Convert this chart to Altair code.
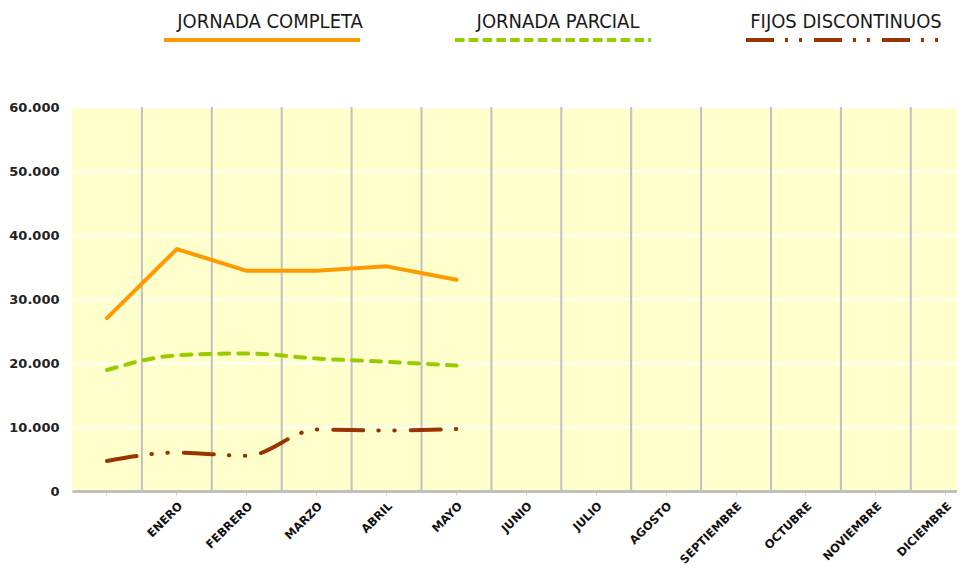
import altair as alt
import pandas as pd

# ---- data -------------------------------------------------------------
categories = ["", "ENERO", "FEBRERO", "MARZO", "ABRIL", "MAYO", "JUNIO", "JULIO",
              "AGOSTO", "SEPTIEMBRE", "OCTUBRE", "NOVIEMBRE", "DICIEMBRE"]
series_names = ["JORNADA COMPLETA", "JORNADA PARCIAL", "FIJOS DISCONTINUOS"]
series_colors = ["#FF9900", "#99CC00", "#993300"]
completa = [27000, 37800, 34400, 34400, 35100, 33000]
parcial = [18900, 21200, 21500, 20700, 20200, 19600]
fijos = [4700, 6000, 5500, 9600, 9450, 9700]
y_ticks = [0, 10000, 20000, 30000, 40000, 50000, 60000]

n = len(completa)
df = pd.DataFrame({
    "mes": categories[:n] * 3,
    "serie": [series_names[0]] * n + [series_names[1]] * n + [series_names[2]] * n,
    "valor": completa + parcial + fijos,
})
grid_df = pd.DataFrame({"mes": categories[1:]})

W, H = 885, 384
BAND = 69.9
xscale = alt.Scale(domain=categories, range=[0, BAND * len(categories)],
                   paddingInner=0, paddingOuter=0)
yscale = alt.Scale(domain=[0, 60000], nice=False)

label_font = "DejaVu Sans"

xaxis = alt.Axis(title=None, labelAngle=-45, labelAlign="right", labelBaseline="top",
                 labelFont=label_font, labelFontSize=11.5, labelFontWeight="bold",
                 labelColor="#111111", labelPadding=5, labelOverlap=False, labelBound=False,
                 tickColor="#d0d0d0", tickSize=4, tickWidth=1,
                 domainColor="#c0c0c0", domainWidth=3, grid=False)
yaxis = alt.Axis(title=None, values=y_ticks, ticks=False, domain=False,
                 labelExpr="replace(format(datum.value, ','), ',', '.')",
                 labelFont=label_font, labelFontSize=13, labelFontWeight="bold",
                 labelColor="#222222", labelPadding=13,
                 grid=True, gridColor="#ffffff", gridWidth=2)

X = alt.X("mes:N", scale=xscale, sort=categories, axis=xaxis)
Y = alt.Y("valor:Q", scale=yscale, axis=yaxis)

vgrid = alt.Chart(grid_df).mark_rule(color="#c0c0c0", strokeWidth=2).encode(
    x=alt.X("mes:N", scale=xscale, sort=categories, bandPosition=0, axis=xaxis),
)

dashes = [None, [10, 9], [30, 15, 0.5, 15.5, 0.5, 16]]
interps = ["linear", "monotone", "monotone"]
line_layers = []
for name, color, dash, interp in zip(series_names, series_colors, dashes, interps):
    kw = dict(color=color, strokeWidth=4, strokeCap="round", strokeJoin="round", interpolate=interp)
    if dash:
        kw["strokeDash"] = dash
    line_layers.append(
        alt.Chart(df).transform_filter(alt.datum.serie == name).mark_line(**kw).encode(x=X, y=Y)
    )

# ---- legend (text above sample line) ---------------------------------------
legend_dashes = [None, [9.5, 4.3], [28, 11, 3, 11, 3, 12]]
legend_layers = []
for i, (name, color, dash) in enumerate(zip(series_names, series_colors, legend_dashes)):
    x0 = 92 + i * 291
    ldf = pd.DataFrame({"label": [name]})
    legend_layers.append(
        alt.Chart(ldf).mark_text(font="DejaVu Sans Condensed, Liberation Sans", fontSize=20,
                                 color="#1a1a1a", align="center", baseline="alphabetic").encode(
            text="label:N", x=alt.value(x0 + 106 - i * 3), y=alt.value(-79))
    )
    rkw = dict(color=color, strokeWidth=4, strokeCap="butt")
    if dash:
        rkw["strokeDash"] = dash
    legend_layers.append(
        alt.Chart(ldf).mark_rule(**rkw).encode(
            x=alt.value(x0), x2=alt.value(x0 + 196), y=alt.value(-67))
    )

chart = alt.layer(vgrid, *line_layers, *legend_layers).properties(
    width=W, height=H,
    autosize=alt.AutoSizeParams(type="none"),
    padding={"left": 64, "top": 99, "right": 0, "bottom": 76},
    background="#ffffff",
).configure_view(fill="#FFFFCC", stroke=None)

chart.save("out.html", embed_options={"renderer": "svg", "actions": False})
